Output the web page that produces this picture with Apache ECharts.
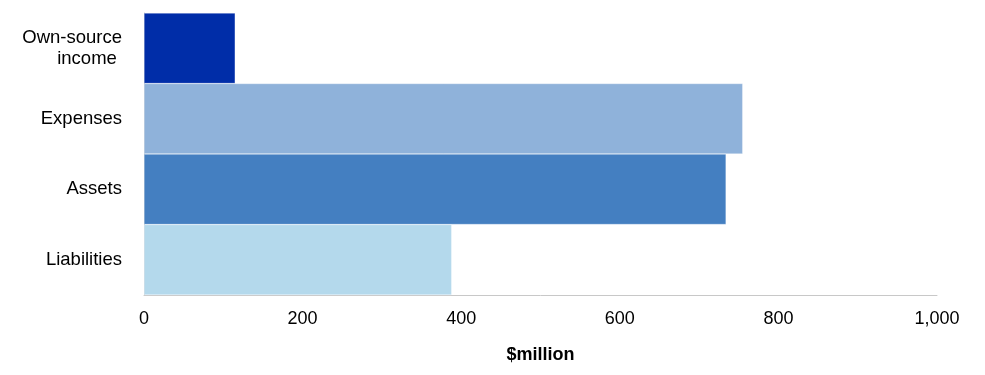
<!DOCTYPE html>
<html><head><meta charset="utf-8">
<script src="https://cdn.jsdelivr.net/npm/echarts@6/dist/echarts.min.js"></script>
<style>html,body{margin:0;padding:0;background:#fff}#c{width:985px;height:375px}</style>
</head><body><div id="c"></div>
<script>
const categories = ["Own-source\nincome ", "Expenses", "Assets", "Liabilities"];
const values = [115, 755, 734, 388];
const barColors = ["#002DA8", "#8FB2DA", "#447FC1", "#B4D9EC"];
const xTicks = [0, 200, 400, 600, 800, 1000];

const chart = echarts.init(document.getElementById('c'), null, {renderer: 'canvas'});
chart.setOption({
  animation: false,
  grid: {left: 144, right: 48, top: 13, bottom: 80, containLabel: false},
  xAxis: {
    type: 'value', min: 0, max: 1000, interval: 200,
    name: '$million', nameLocation: 'middle', nameGap: 51,
    nameTextStyle: {fontFamily: 'Liberation Sans', fontSize: 18, fontWeight: 'bold', color: '#000'},
    axisLine: {show: true, lineStyle: {color: '#C8C8C8', width: 1}},
    axisTick: {show: false},
    splitLine: {show: false},
    axisLabel: {fontFamily: 'Liberation Sans', fontSize: 18, color: '#000', margin: 15,
      formatter: v => v.toLocaleString('en-US')}
  },
  yAxis: {
    type: 'category', data: categories, inverse: true,
    axisLine: {show: true, lineStyle: {color: '#C8C8C8', width: 1}},
    axisTick: {show: false},
    axisLabel: {fontFamily: 'Liberation Sans', fontSize: 18.5, color: '#000', margin: 22, lineHeight: 21, align: 'right'}
  },
  series: [{
    type: 'bar', barCategoryGap: 0,
    data: values.map((v, i) => ({value: v, itemStyle: {color: barColors[i], borderColor: 'rgba(255,255,255,0.6)', borderWidth: 0.5}}))
  }]
});
</script></body></html>
